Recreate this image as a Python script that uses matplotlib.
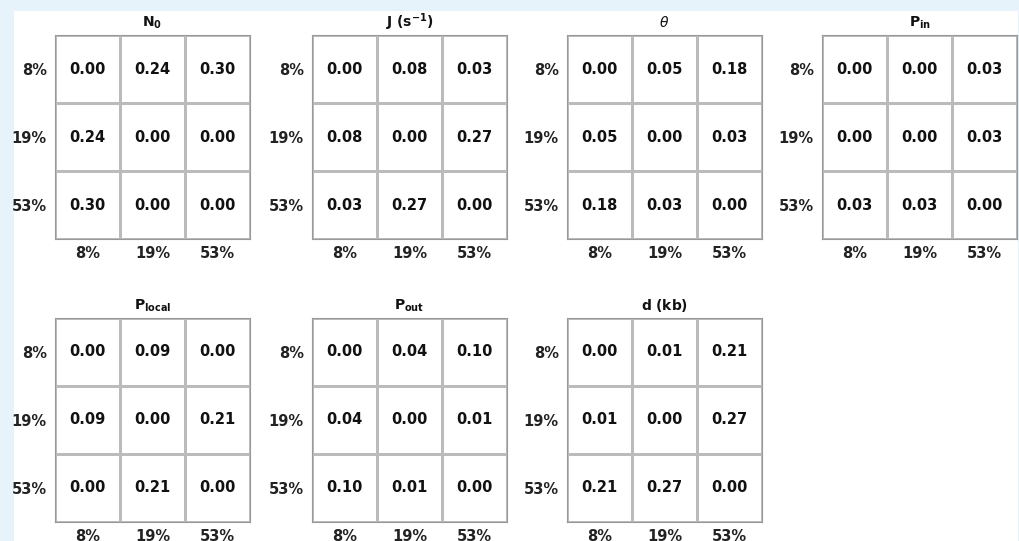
import matplotlib
matplotlib.use("Agg")
import matplotlib.pyplot as plt
import numpy as np
from matplotlib.patches import Rectangle

plt.rcParams['font.family'] = ['DejaVu Sans']
plt.rcParams['mathtext.fontset'] = 'custom'
plt.rcParams['mathtext.rm'] = 'DejaVu Sans:bold'
plt.rcParams['mathtext.bf'] = 'DejaVu Sans:bold'
plt.rcParams['mathtext.it'] = 'DejaVu Sans:italic'

labels = ['8%', '19%', '53%']
titles = [r'$\mathbf{N_0}$', r'$\mathbf{J\ (s^{-1})}$', r'$\theta$', r'$\mathbf{P_{in}}$',
          r'$\mathbf{P_{local}}$', r'$\mathbf{P_{out}}$', r'$\mathbf{d\ (kb)}$']
N0 = [[0.00, 0.24, 0.30], [0.24, 0.00, 0.00], [0.30, 0.00, 0.00]]
J = [[0.00, 0.08, 0.03], [0.08, 0.00, 0.27], [0.03, 0.27, 0.00]]
theta = [[0.00, 0.05, 0.18], [0.05, 0.00, 0.03], [0.18, 0.03, 0.00]]
Pin = [[0.00, 0.00, 0.03], [0.00, 0.00, 0.03], [0.03, 0.03, 0.00]]
Plocal = [[0.00, 0.09, 0.00], [0.09, 0.00, 0.21], [0.00, 0.21, 0.00]]
Pout = [[0.00, 0.04, 0.10], [0.04, 0.00, 0.01], [0.10, 0.01, 0.00]]
d = [[0.00, 0.01, 0.21], [0.01, 0.00, 0.27], [0.21, 0.27, 0.00]]
mats = [N0, J, theta, Pin, Plocal, Pout, d]

W, H = 1020, 541
fig = plt.figure(figsize=(W/100, H/100), dpi=100)
fig.patch.set_facecolor('#e6f3fb')
fig.patches.append(Rectangle((14/W, 0), (1018-14)/W, 1-11/H, transform=fig.transFigure,
                             facecolor='white', edgecolor='none', zorder=-10))

lefts = [55, 312, 567, 822]
rows = [(35, 239), (318, 522)]
for i, (m, t) in enumerate(zip(mats, titles)):
    r, c = divmod(i, 4)
    x0 = lefts[c]; y0, y1 = rows[r]
    ax = fig.add_axes([x0/W, 1-y1/H, 195/W, (y1-y0)/H])
    a = np.array(m)
    ax.pcolormesh(np.arange(4), np.arange(4), np.zeros_like(a), cmap='Greys', vmin=0, vmax=1,
                  edgecolors='#bbbbbb', linewidth=0.8)
    ax.set_xlim(0, 3); ax.set_ylim(3, 0)
    for yi in range(3):
        for xi in range(3):
            ax.text(xi+0.5, yi+0.5, f'{a[yi, xi]:.2f}', ha='center', va='center',
                    fontsize=10.5, fontweight='bold', color='#111111')
    ax.set_xticks(np.arange(3)+0.5, labels)
    ax.set_yticks(np.arange(3)+0.5, labels)
    ax.tick_params(axis='y', length=0, labelsize=10.5, pad=6)
    ax.tick_params(axis='x', length=0, labelsize=10.5, pad=5)
    for lab in ax.get_xticklabels() + ax.get_yticklabels():
        lab.set_fontweight('bold'); lab.set_color('#222222')
    for s in ax.spines.values():
        s.set_color('#999999'); s.set_linewidth(0.8)
    ax.set_title(t, fontsize=10, pad=6, color='#111111')

fig.savefig('out.png', dpi=100, facecolor=fig.get_facecolor())
